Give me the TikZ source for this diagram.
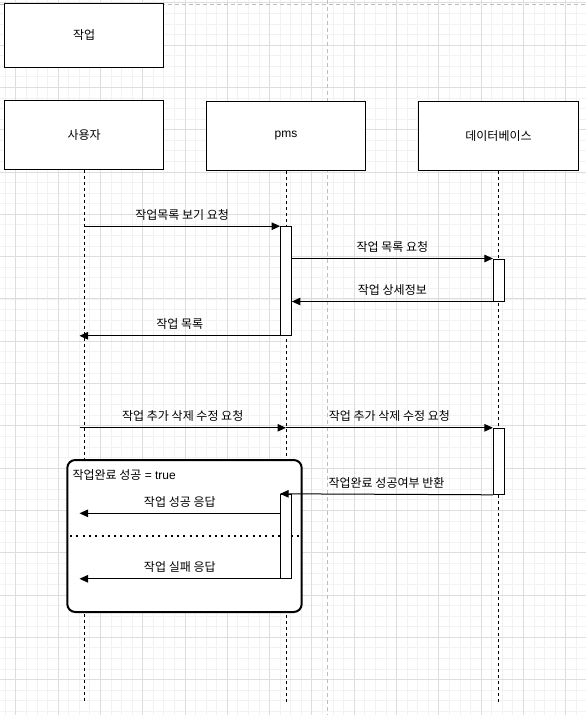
\documentclass[tikz,border=0pt]{standalone}
\usepackage{fontspec}
\setmainfont{Liberation Sans}
\newfontfamily\kr{Noto Sans CJK KR}
\usetikzlibrary{arrows.meta,calc}
\begin{document}
\begin{tikzpicture}[x=1pt,y=-1pt,
  minorgrid/.style={draw={rgb,255:red,242;green,242;blue,242}, line width=0.6pt},
  majorgrid/.style={draw={rgb,255:red,221;green,221;blue,221}, line width=0.8pt},
  pageline/.style={draw={rgb,255:red,190;green,190;blue,190}, line width=0.8pt, dash pattern=on 4pt off 3pt},
  actor/.style={draw=black, fill=white, line width=1pt, minimum width=159.6pt, minimum height=69pt,
    inner sep=0pt, font=\fontsize{12}{14}\selectfont},
  lifeline/.style={draw=black, line width=0.9pt, dash pattern=on 3pt off 3pt},
  bar/.style={draw=black, fill=white, line width=1pt, minimum width=10.8pt, inner sep=0pt},
  msg/.style={draw=black, line width=1pt, -{Triangle[length=8.5pt,width=7.5pt]}},
  lbl/.style={midway, yshift=11.5pt, inner sep=0pt, font=\kr\fontsize{12}{14}\selectfont},
  altframe/.style={draw=black, fill=white, line width=2pt, rounded corners=8pt, inner sep=0pt},
  separator/.style={draw=black, line width=2pt, dash pattern=on 2pt off 4.3pt}
]
\useasboundingbox (0,0) rectangle (586,715);
\fill[white] (0,0) rectangle (586,715);

% background grid
\foreach \i in {0,...,55} \draw[minorgrid] ({5.1+10.575*\i},0) -- ++(0,715);
\foreach \i in {0,...,67} \draw[minorgrid] (0,{2.7+10.575*\i}) -- ++(586,0);
\foreach \i in {0,...,13} \draw[majorgrid] ({15.7+42.3*\i},0) -- ++(0,715);
\foreach \i in {0,...,16} \draw[majorgrid] (0,{2.7+42.3*\i}) -- ++(586,0);

% page break lines
\draw[pageline] (327.7,0) -- (327.7,715);
\draw[pageline] (0,4.3) -- (586,4.3);

% title and participants
\node[actor, minimum height=63.6pt] (task) at (84.15,35.5) {\kr 작업};
\node[actor, minimum height=69.3pt] (user) at (84.15,134.65) {\kr 사용자};
\node[actor] (pms) at (286,135.8) {pms};
\node[actor] (db) at (498.5,135.8) {\kr 데이터베이스};

% lifelines
\coordinate (bottom) at (0,701.7);
\draw[lifeline] (user.south) -- (user.south |- bottom);
\draw[lifeline] (pms.south) -- (pms.south |- bottom);
\draw[lifeline] (db.south) -- (db.south |- bottom);

% alternative fragment
\node[altframe, minimum width=234.4pt, minimum height=152pt] (alt) at (184.5,536) {};
\node[anchor=west, inner sep=0pt, font=\fontsize{12}{14}\selectfont] (altlabel)
  at ($(alt.north west)+(6,16)$) {{\kr 작업완료 성공} = true};
\coordinate (sepL) at (70,535.7);
\coordinate (sepR) at (301.7,535.7);
\draw[separator] (sepL) -- (sepR);

% activation bars
\node[bar, minimum height=108.6pt] (p1) at (286,281) {};
\node[bar, minimum height=42pt] (d1) at (498.8,280) {};
\node[bar, minimum height=66pt] (d2) at (498.8,461.3) {};
\node[bar, minimum height=84pt] (p2) at (286,536.3) {};

% messages
\coordinate (uL) at (79.5,0);
\coordinate (r8) at (0,513.3);

\draw[msg] (user.south |- p1.north) -- node[lbl] {작업목록 보기 요청} (p1.north west);
\draw[msg] (p1.east |- d1.north) -- node[lbl] {작업 목록 요청} (d1.north west);
\draw[msg] (d1.south west) -- node[lbl] {작업 상세정보} (p1.east |- d1.south);
\draw[msg] (p1.south west) -- node[lbl] {작업 목록} (uL |- p1.south);

\draw[msg] (uL |- d2.north) -- node[lbl] {작업 추가 삭제 수정 요청} (pms.south |- d2.north);
\draw[msg] (pms.south |- d2.north) -- node[lbl] {작업 추가 삭제 수정 요청} (d2.north west);
\draw[msg] (d2.south west) -- node[lbl] {작업완료 성공여부 반환} (p2.north west);
\draw[msg] (p2.west |- r8) -- node[lbl] {작업 성공 응답} (uL |- r8);
\draw[msg] (p2.south west) -- node[lbl] {작업 실패 응답} (uL |- p2.south);
\end{tikzpicture}
\end{document}
